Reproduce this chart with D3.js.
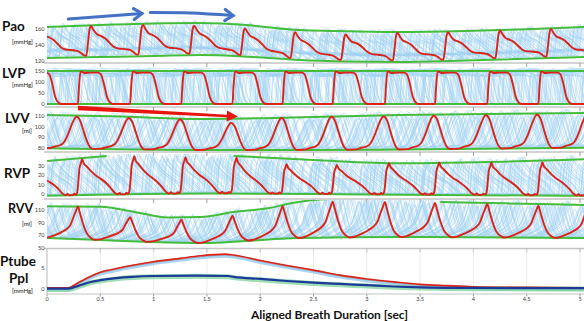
<!DOCTYPE html>
<html><head><meta charset="utf-8">
<script src="https://cdn.jsdelivr.net/npm/d3@7"></script>
<style>body{margin:0;background:#fff}svg{display:block}</style>
</head><body>
<script>
// ================= DATA =================
const xTicks = [0,0.5,1,1.5,2,2.5,3,3.5,4,4.5,5];
const xTickLabels = ["0","0.5","1","1.5","2","2.5","3","3.5","4","4.5","5"];
// heartbeat onsets (sec) of the highlighted (red) beat sequence
const beatOnsets = [-0.67,-0.19,0.29,0.78,1.26,1.74,2.21,2.68,3.17,3.64,4.13,4.61,5.08,5.56,6.04,6.52];

// Pao
const paoTicks = [120,140,160];
const paoTopT = [0,0.5,1.0,1.44,1.9,2.28,2.84,3.31,4.0,4.5,5.04];
const paoTopV = [162.5,164.9,166.8,167.4,164.5,159.5,157.2,156.3,157.8,159.6,162.5];
const paoBotT = [0,0.5,1.0,1.44,1.9,2.37,2.84,3.31,3.78,4.25,5.04];
const paoBotV = [124.3,125.5,126.8,128,125.8,121.8,120,119.4,120.6,122.5,125.5];
const paoShapeP = [0,0.06,0.12,0.16,0.19,0.22,0.25,0.3,0.36,0.44,0.52,0.6,0.68,0.76,0.86,0.94,1];
const paoShapeV = [0.2,0.14,0.06,0.05,0.4,0.85,0.98,0.85,0.72,0.66,0.58,0.45,0.32,0.26,0.24,0.22,0.2];
const paoAmps = [1,1,1,1,0.95,0.9,0.95,0.88,1,0.98,1,1,1,1,1,1];

// LVP
const lvpTicks = [0,50,100,150];
const lvpTopT = [0,5.04], lvpTopV = [150,150];
const lvpBotT = [0,5.04], lvpBotV = [0,0];
const lvpShapeP = [0,0.02,0.05,0.08,0.12,0.25,0.38,0.44,0.5,0.56,0.62,0.68,0.96,1];
const lvpShapeV = [0.01,0.5,0.97,0.98,0.94,0.95,0.95,0.9,0.6,0.2,0.04,0,0,0.01];
const lvpAmps = [1,1,1,1,1,1,1,1,1,1,1,1,1,1,1,1];

// LVV
const lvvTicks = [80,90,100,110];
const lvvTopT = [0,0.7,1.44,2.3,3.31,5.04];
const lvvTopV = [110.9,109.5,107.2,108.5,111,112.8];
const lvvBotT = [0,1.44,3.1,5.04];
const lvvBotV = [79.7,78.1,78.4,80.3];
const lvvShapeP = [0,0.05,0.1,0.16,0.22,0.28,0.45,0.55,0.65,0.72,0.8,0.88,0.94,0.97,1];
const lvvShapeV = [0.98,0.85,0.6,0.3,0.08,0,0.01,0.06,0.1,0.18,0.42,0.75,0.95,1,0.98];
const lvvAmps = [0.97,0.97,0.97,0.96,0.97,0.86,1,1,0.97,0.97,0.97,0.97,0.97,0.97,0.97,0.97];

// RVP
const rvpTicks = [0,10,20,30];
const rvpTopT = [0,0.56,1.75,2.5,3.31,5.04];
const rvpTopV = [35.4,40.7,40.7,36.5,32.9,37.2];
const rvpTopDrawn = [[0,0.56],[1.75,5.04]];
const rvpBotT = [0,1.5,3,5.04];
const rvpBotV = [-2,0.5,-0.5,-2];
const rvpShapeP = [0,0.03,0.06,0.08,0.11,0.16,0.25,0.35,0.45,0.55,0.63,0.7,0.76,0.8,0.83,0.9,0.93,0.96,0.985,1];
const rvpShapeV = [0.25,0.75,0.9,1,0.88,0.8,0.65,0.52,0.42,0.3,0.18,0.06,0.01,0.05,0.01,0.01,0.05,0.02,0.08,0.25];
const rvpAmps = [0.9,0.9,0.97,1,0.97,0.97,0.84,0.87,1,1,0.96,0.94,0.94,0.94,0.94,0.94];

// RVV
const rvvTicks = [50,70,90,110];
const rvvTopT = [0,0.5,0.87,1.13,1.44,1.75,2.07,2.3,2.5,2.75,3.2,3.69,4.3,5.04];
const rvvTopV = [115.8,115.2,105.3,98.2,98.9,106.8,112.7,121,125.8,128,126,122.6,120.5,117.9];
const rvvTopDrawn = [[0,2.75],[3.69,5.04]];
const rvvBotT = [0,0.5,0.97,1.44,2.37,3.31,5.04];
const rvvBotV = [65.8,62.6,59.5,57.9,65.8,67.4,65.8];
const rvvShapeP = [0,0.04,0.1,0.17,0.25,0.32,0.42,0.55,0.68,0.78,0.86,0.92,0.97,1];
const rvvShapeV = [1,0.8,0.48,0.2,0.06,0,0.02,0.1,0.2,0.3,0.45,0.7,0.9,1];
const rvvAmps = [1,1,1,0.81,0.9,0.88,0.97,0.93,0.94,0.97,0.97,0.95,0.95,0.95,0.95,0.95];

// background (all other breaths): shift / stretch of the beat train and amplitude
const bgShift = [-0.02,-0.05,-0.09,-0.12,-0.15,-0.19,-0.22,-0.26,-0.29,-0.33,-0.36,-0.40,-0.43,-0.47,
                 -0.04,-0.08,-0.13,-0.17,-0.21,-0.24,-0.28,-0.31,-0.35,-0.38,-0.42,-0.45,-0.01,-0.27,
                 -0.07,-0.11,-0.18,-0.23,-0.30,-0.34,-0.39,-0.44,-0.03,-0.14,-0.25,-0.37];
const bgStretch = [0.93,1.06,0.97,1.09,0.95,1.02,0.91,1.07,0.99,1.04,0.94,1.08,0.96,1.01,
                   1.05,0.92,1.03,0.98,1.10,0.95,1.06,0.90,1.02,0.97,1.08,0.93,1.00,1.04,
                   1.01,0.96,1.07,0.92,1.05,0.98,1.09,0.94,1.03,0.99,0.91,1.06];
const bgAmp = [0.95,1.05,0.9,1.1,1.0,0.92,1.08,0.97,1.03,0.88,1.12,0.96,1.0,1.06,
               0.93,1.02,1.09,0.91,0.99,1.04,0.94,1.07,0.98,1.01,0.89,1.1,0.96,1.03,
               1.08,0.94,1.0,1.13,0.9,1.05,0.97,1.02,0.92,1.1,1.04,0.95];

// Ptube / Ppl
const presTicks = [0,5];
const ptubeT = [0,0.2,0.3,0.4,0.5,0.6,0.75,1.0,1.25,1.44,1.67,1.75,2.0,2.25,2.5,2.75,3.0,3.25,3.5,3.75,4.0,4.5,5.04];
const ptubeV = [0.3,0.3,1.6,2.9,4.0,4.6,5.4,6.5,7.3,7.9,8.3,8.1,6.8,5.6,4.5,3.3,2.4,1.7,1.1,0.8,0.55,0.4,0.3];
const pplT = [0,0.2,0.3,0.4,0.5,0.65,0.8,1.0,1.4,1.7,1.75,2.0,2.25,2.5,2.75,3.0,3.25,3.5,4.0,5.04];
const pplV = [0.1,0.1,0.8,1.6,2.1,2.6,2.9,3.1,3.2,3.1,2.9,2.4,1.9,1.5,1.2,0.9,0.6,0.4,0.25,0.2];

// annotation arrows (time, value in panel units)
const blueArrows = [
  {panel:"pao", pts:[[0.2,172.3],[0.89,179.1]]},
  {panel:"pao", pts:[[0.97,180.3],[1.35,179.7],[1.745,176.6]]}
];
const redArrow = {panel:"lvv", pts:[[0.29,117.5],[1.79,109.5]]};

// ================= CHART =================
const W=584,H=321, XL=47, XR=584;
const svg = d3.select("body").append("svg").attr("width",W).attr("height",H)
  .style("font-family","Lato, 'Open Sans', sans-serif");
const x = d3.scaleLinear().domain([0,5]).range([47,580]);

const C = {bg:"#9fd0f1", green:"#45bd3c", red:"#dd2318", axis:"#c4c4c4", tick:"#a0a0a0", text:"#3a3a3a"};

function env(T,V){ return d3.scaleLinear().domain(T).range(V).clamp(true); }

const panels = [
 {key:"pao", top:16, axis:63, dom:[120,160], rng:[61.5,29], ticks:paoTicks, tickLabels:paoTicks.map(String),
  topT:paoTopT, topV:paoTopV, botT:paoBotT, botV:paoBotV, topDrawn:[[0,5.04]], sp:paoShapeP, sv:paoShapeV, amps:paoAmps},
 {key:"lvp", top:66, axis:107, dom:[0,150], rng:[104,71], ticks:lvpTicks, tickLabels:lvpTicks.map(String),
  topT:lvpTopT, topV:lvpTopV, botT:lvpBotT, botV:lvpBotV, topDrawn:[[0,5.04]], sp:lvpShapeP, sv:lvpShapeV, amps:lvpAmps},
 {key:"lvv", top:109, axis:152, dom:[80,110], rng:[148,116], ticks:lvvTicks, tickLabels:lvvTicks.map(String),
  topT:lvvTopT, topV:lvvTopV, botT:lvvBotT, botV:lvvBotV, topDrawn:[[0,5.04]], sp:lvvShapeP, sv:lvvShapeV, amps:lvvAmps},
 {key:"rvp", top:154, axis:199, dom:[0,30], rng:[194,166], ticks:rvpTicks, tickLabels:rvpTicks.map(String),
  topT:rvpTopT, topV:rvpTopV, botT:rvpBotT, botV:rvpBotV, topDrawn:rvpTopDrawn, sp:rvpShapeP, sv:rvpShapeV, amps:rvpAmps},
 {key:"rvv", top:200, axis:248.5, dom:[50,110], rng:[248,210], ticks:rvvTicks, tickLabels:rvvTicks.map(String),
  topT:rvvTopT, topV:rvvTopV, botT:rvvBotT, botV:rvvBotV, topDrawn:rvvTopDrawn, sp:rvvShapeP, sv:rvvShapeV, amps:rvvAmps}
];
const byKey = {};

function tracePts(p, onsets, ampFn){
  const pts=[];
  for(let k=0;k<onsets.length-1;k++){
    const a=onsets[k], b=onsets[k+1];
    if(b < -0.1 || a > 5.15) continue;
    for(let j=0;j<p.sp.length-1;j++){
      const t=a+(b-a)*p.sp[j];
      const lo=p.bot(t), hi=p.topE(t);
      pts.push([t, lo+(hi-lo)*p.sv[j]*ampFn(k,p.sp[j])]);
    }
  }
  return pts;
}

const defs = svg.append("defs");
panels.forEach((p,i)=>{
  byKey[p.key]=p;
  p.y = d3.scaleLinear().domain(p.dom).range(p.rng);
  p.topE = env(p.topT,p.topV);
  p.bot = env(p.botT,p.botV);
  const cid="clip"+i;
  defs.append("clipPath").attr("id",cid).append("rect")
    .attr("x",XL).attr("y",p.top).attr("width",XR-XL).attr("height",p.axis-p.top);
  const g = svg.append("g");
  g.append("line").attr("x1",44).attr("x2",XR).attr("y1",p.axis).attr("y2",p.axis)
    .attr("stroke",C.axis).attr("stroke-width",1.4);
  g.selectAll(".xt").data(xTicks.slice(1)).join("line")
    .attr("x1",d=>x(d)).attr("x2",d=>x(d)).attr("y1",p.axis).attr("y2",p.axis+4)
    .attr("stroke",C.tick).attr("stroke-width",1);
  g.selectAll(".yl").data(p.ticks).join("text")
    .attr("x",44.5).attr("y",d=>p.y(d)).attr("dy","0.35em")
    .attr("text-anchor","end").attr("font-size",5.6).attr("fill",C.text)
    .text((d,j)=>p.tickLabels[j]);
  const pg = g.append("g").attr("clip-path",`url(#${cid})`);
  const line = d3.line().x(d=>x(d[0])).y(d=>p.y(d[1])).curve(d3.curveMonotoneX);
  bgShift.forEach((s,i2)=>{
    const ons = beatOnsets.map(b=>b*bgStretch[i2]+s);
    const pts = tracePts(p, ons, ()=>bgAmp[i2]);
    pg.append("path").attr("d",line(pts)).attr("fill","none")
      .attr("stroke",C.bg).attr("stroke-width",0.7).attr("stroke-opacity",0.65);
  });
  const envLine = (T,V,ranges)=>ranges.map(r=>{
    const f=env(T,V);
    const pts=[[r[0],f(r[0])]];
    T.forEach((t,j)=>{ if(t>r[0]+1e-6 && t<r[1]-1e-6) pts.push([t,V[j]]); });
    pts.push([r[1],f(r[1])]);
    return pts;
  });
  envLine(p.topT,p.topV,p.topDrawn).forEach(pts=>
    pg.append("path").attr("d",line(pts)).attr("fill","none").attr("stroke",C.green).attr("stroke-width",2));
  envLine(p.botT,p.botV,[[0,5.04]]).forEach(pts=>
    pg.append("path").attr("d",line(pts)).attr("fill","none").attr("stroke",C.green).attr("stroke-width",2));
  const redPts = tracePts(p, beatOnsets, (k,ph)=>p.amps[k]*(1-ph)+p.amps[k+1]*ph);
  pg.append("path").attr("d",line(redPts)).attr("fill","none")
    .attr("stroke",C.red).attr("stroke-width",1.9).attr("stroke-linejoin","round");
});

// ----- bottom panel Ptube / Ppl -----
{
  const top=249, axis=294;
  const y = d3.scaleLinear().domain([0,5]).range([289,268]);
  const g = svg.append("g");
  g.selectAll(".vg").data(xTicks).join("line")
    .attr("x1",d=>x(d)).attr("x2",d=>x(d)).attr("y1",top).attr("y2",axis)
    .attr("stroke","#e6e6e6").attr("stroke-width",0.8);
  g.append("line").attr("x1",XL).attr("x2",XL).attr("y1",top).attr("y2",axis).attr("stroke",C.axis);
  g.append("line").attr("x1",XL).attr("x2",XR).attr("y1",axis).attr("y2",axis).attr("stroke",C.axis).attr("stroke-width",1.2);
  g.selectAll(".xt").data(xTicks).join("line")
    .attr("x1",d=>x(d)).attr("x2",d=>x(d)).attr("y1",axis).attr("y2",axis+2.5).attr("stroke",C.tick);
  g.selectAll(".xl").data(xTicks).join("text")
    .attr("x",d=>x(d)).attr("y",301).attr("text-anchor","middle").attr("font-size",5.6).attr("fill",C.text)
    .text((d,i)=>xTickLabels[i]);
  g.selectAll(".yl").data(presTicks).join("text")
    .attr("x",44.5).attr("y",d=>y(d)).attr("dy","0.35em").attr("text-anchor","end")
    .attr("font-size",5.6).attr("fill",C.text).text(d=>d);
  const line = d3.line().x(d=>x(d[0])).y(d=>y(d[1])).curve(d3.curveMonotoneX);
  const pt = ptubeT.map((t,i)=>[t,ptubeV[i]]);
  const pp = pplT.map((t,i)=>[t,pplV[i]]);
  g.append("path").attr("d",line(pt)).attr("fill","none").attr("stroke","#a9d6f3")
    .attr("stroke-width",4).attr("transform","translate(0,1.5)");
  g.append("path").attr("d",line(pp)).attr("fill","none").attr("stroke","#7fd39a")
    .attr("stroke-width",5).attr("stroke-opacity",0.75).attr("transform","translate(0,0.8)");
  g.append("path").attr("d",line(pt)).attr("fill","none").attr("stroke","#9a9aa8")
    .attr("stroke-width",0.8).attr("transform","translate(0,1)");
  g.append("path").attr("d",line(pt)).attr("fill","none").attr("stroke",C.red).attr("stroke-width",1.6);
  g.append("path").attr("d",line(pp)).attr("fill","none").attr("stroke","#1d3a9b").attr("stroke-width",2.2);
}

// ----- arrows -----
blueArrows.forEach(a=>{
  const p=byKey[a.panel];
  const pts=a.pts.map(d=>[x(d[0]),p.y(d[1])]);
  svg.append("path").attr("d",d3.line().curve(d3.curveCatmullRom)(pts)).attr("fill","none")
    .attr("stroke","#4472c4").attr("stroke-width",3.2).attr("stroke-linecap","round");
  const [x1,y1]=pts[pts.length-2], [x2,y2]=pts[pts.length-1];
  const ang=Math.atan2(y2-y1,x2-x1), L=8, Wd=5.5;
  const ux=Math.cos(ang), uy=Math.sin(ang);
  const hp=[[x2-L*ux+Wd*uy, y2-L*uy-Wd*ux],[x2,y2],[x2-L*ux-Wd*uy, y2-L*uy+Wd*ux]];
  svg.append("path").attr("d",d3.line()(hp)).attr("fill","none").attr("stroke","#4472c4")
    .attr("stroke-width",3.2).attr("stroke-linejoin","miter").attr("stroke-linecap","round");
});
{
  const p=byKey[redArrow.panel];
  const [a,b]=redArrow.pts.map(d=>[x(d[0]),p.y(d[1])]);
  const ang=Math.atan2(b[1]-a[1],b[0]-a[0]), ux=Math.cos(ang), uy=Math.sin(ang);
  const HL=11, HW=5.5, w0=2.2, w1=1.3;
  const bx=b[0]-HL*ux, by=b[1]-HL*uy;
  const poly=[[a[0]+w0*uy,a[1]-w0*ux],[bx+w1*uy,by-w1*ux],[bx+HW*uy,by-HW*ux],[b[0],b[1]],
              [bx-HW*uy,by+HW*ux],[bx-w1*uy,by+w1*ux],[a[0]-w0*uy,a[1]+w0*ux]];
  svg.append("path").attr("d",d3.line()(poly)+"Z").attr("fill","#e8150e");
}

// ----- labels -----
const labels = [
 ["Pao",2,31,13.5,true],["[mmHg]",12,44,6,false],
 ["LVP",2,78,13.5,true],["[mmHg]",12,87,6,false],
 ["LVV",5,123,13.5,true],["[ml]",22,133,6,false],
 ["RVP",4,178,13.5,true],
 ["RVV",8,213,12.5,true],["[ml]",22,226,6,false],
 ["Ptube",0,266,13.5,true],["Ppl",9,283,13.5,true],["[mmHg]",12,293,6,false]
];
svg.selectAll(".lab").data(labels).join("text")
  .attr("x",d=>d[1]).attr("y",d=>d[2]).attr("font-size",d=>d[3])
  .attr("font-weight",d=>d[4]?"bold":"normal").attr("fill","#111").text(d=>d[0]);
svg.append("text").attr("x",329.5).attr("y",319).attr("text-anchor","middle")
  .attr("font-size",12).attr("font-weight","bold").attr("fill","#111")
  .text("Aligned Breath Duration [sec]");
</script>
</body></html>
